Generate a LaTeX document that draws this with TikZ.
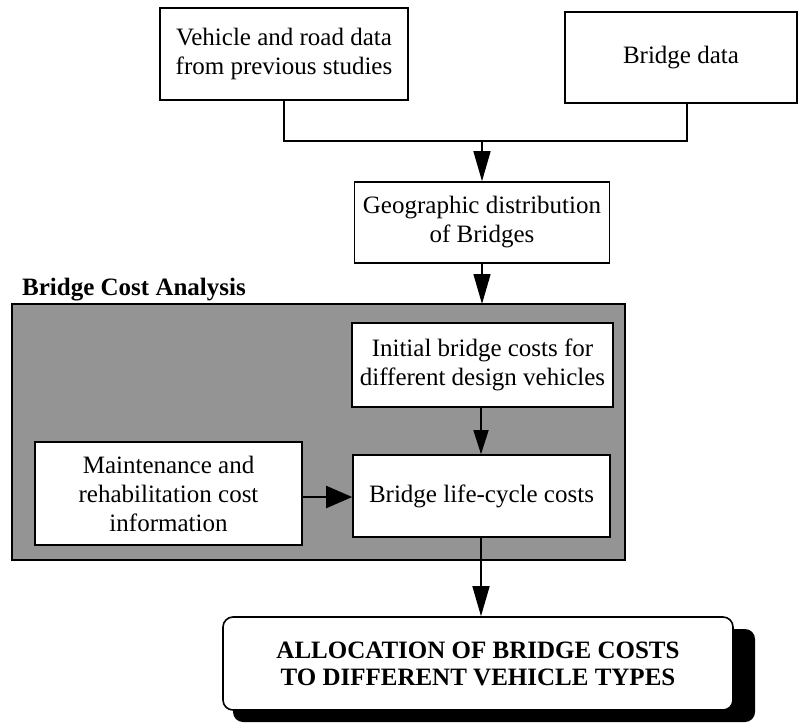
\documentclass[tikz,border=0pt]{standalone}
\usepackage{fontspec}
\setmainfont{Liberation Serif}
\usetikzlibrary{arrows.meta}
\begin{document}
\begin{tikzpicture}[x=1pt,y=-1pt,
  box/.style={draw, line width=1.6pt, fill=white, align=center, inner sep=0pt,
    font=\fontsize{25}{29}\selectfont},
  link/.style={line width=1.5pt},
  flow/.style={line width=1.5pt, -{Triangle[length=30pt,width=17pt]}},
  shortflow/.style={line width=1.5pt, -{Triangle[length=24pt,width=15pt]}},
  bigflow/.style={line width=2pt, -{Triangle[length=26pt,width=22pt]}}]
\useasboundingbox (0,0) rectangle (800,725);

% input data
\node[box, minimum width=248pt, minimum height=92pt] (veh) at (284,54)
  {Vehicle and road data\\from previous studies};
\node[box, minimum width=232pt, minimum height=91pt] (brd) at (681,57.5)
  {Bridge data};
\node[box, minimum width=255pt, minimum height=81pt] (geo) at (482,222.5)
  {Geographic distribution\\of Bridges};

\coordinate (mj) at (482,141);
\draw[link] (veh.south) |- (mj) -| (brd.south -| 687,0);
\draw[flow] (mj) -- (geo.north);

% cost analysis frame
\node[anchor=base west, inner sep=0pt, font=\bfseries\fontsize{25}{28}\selectfont] (title)
  at (22,295) {Bridge Cost Analysis};
\draw[line width=2.6pt, fill=black!42] (12,304) rectangle (625,560);
\coordinate (ftop) at (482,304);
\draw[flow] (geo.south) -- (ftop);

\node[box, minimum width=261pt, minimum height=84pt] (init) at (482.5,365)
  {Initial bridge costs for\\different design vehicles};
\node[box, minimum width=257pt, minimum height=82pt] (life) at (481.5,496)
  {Bridge life-cycle costs};
\node[box, minimum width=267pt, minimum height=103pt] (mnt) at (168.5,493.5)
  {Maintenance and\\rehabilitation cost\\information};

\draw[shortflow] (init.south -| 481,0) -- (life.north -| 481,0);
\draw[bigflow] (mnt.east |- 0,497) -- (life.west |- 0,497);

% result
\fill[black, rounded corners=10pt] (233,629) rectangle (755,722);
\node[box, rounded corners=10pt, minimum width=510pt, minimum height=93pt,
  font=\bfseries\fontsize{25}{27}\selectfont] (alloc) at (478,663.5)
  {ALLOCATION OF BRIDGE COSTS\\TO DIFFERENT VEHICLE TYPES};
\draw[flow] (life.south -| 481,0) -- (alloc.north -| 481,0);
\end{tikzpicture}
\end{document}
